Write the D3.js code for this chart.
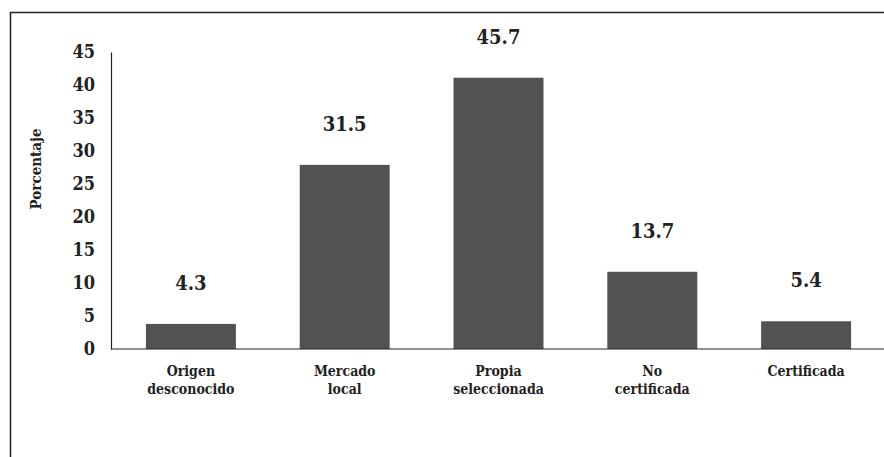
<!DOCTYPE html>
<html>
<head>
<meta charset="utf-8">
<script src="https://cdn.jsdelivr.net/npm/d3@7"></script>
<style>
  body { margin: 0; background: #fff; }
  svg text { font-weight: bold; fill: #222; }
</style>
</head>
<body>
<div id="chart"></div>
<script>
const categories = [["Origen", "desconocido"], ["Mercado", "local"], ["Propia", "seleccionada"], ["No", "certificada"], ["Certificada"]];
const barValues = [3.8, 27.9, 41.1, 11.7, 4.2];
const valueLabels = ["4.3", "31.5", "45.7", "13.7", "5.4"];
const yTicks = [0, 5, 10, 15, 20, 25, 30, 35, 40, 45];

const width = 884, height = 457;
const serif = "'DejaVu Serif Condensed', 'DejaVu Serif', serif";

const svg = d3.select("#chart")
  .append("svg")
  .attr("width", width)
  .attr("height", height)
  .attr("font-family", serif);

// frame (only top and left edges visible)
svg.append("path")
  .attr("d", "M10.5," + height + "V12.5H" + width)
  .attr("fill", "none")
  .attr("stroke", "#222")
  .attr("stroke-width", 1.5);

const keys = categories.map(function(d) { return d.join(" "); });

const x = d3.scaleBand()
  .domain(keys)
  .range([114, 883])
  .paddingInner(0.415)
  .paddingOuter(0.2075);

const y = d3.scaleLinear()
  .domain([0, 45])
  .range([349, 52]);

// bars
svg.selectAll("rect.bar")
  .data(barValues)
  .enter()
  .append("rect")
  .attr("class", "bar")
  .attr("x", function(d, i) { return x(keys[i]); })
  .attr("y", function(d) { return y(d); })
  .attr("width", x.bandwidth())
  .attr("height", function(d) { return y(0) - y(d); })
  .attr("fill", "#525254");

// y axis
const yAxis = svg.append("g")
  .attr("transform", "translate(111,0)")
  .call(d3.axisLeft(y).tickValues(yTicks).tickSize(0).tickPadding(16))
  .attr("font-family", serif)
  .attr("font-size", 18);
yAxis.select(".domain").attr("stroke", "#222").attr("stroke-width", 1.2);
yAxis.selectAll("text").attr("fill", "#222");

// x axis line
svg.append("line")
  .attr("x1", 111).attr("x2", width)
  .attr("y1", y(0)).attr("y2", y(0))
  .attr("stroke", "#222")
  .attr("stroke-width", 1.2);

// category labels
const cat = svg.selectAll(".cat")
  .data(categories)
  .enter()
  .append("text")
  .attr("class", "cat")
  .attr("text-anchor", "middle")
  .style("font-size", "14px");
cat.selectAll("tspan")
  .data(function(d, i) { return d.map(function(t) { return {t: t, i: i}; }); })
  .enter()
  .append("tspan")
  .attr("x", function(d) { return x(keys[d.i]) + x.bandwidth() / 2; })
  .attr("y", function(d, j) { return 376 + j * 18; })
  .text(function(d) { return d.t; });

// value labels
svg.selectAll(".value")
  .data(barValues)
  .enter()
  .append("text")
  .attr("class", "value")
  .attr("text-anchor", "middle")
  .attr("x", function(d, i) { return x(keys[i]) + x.bandwidth() / 2; })
  .attr("y", function(d) { return y(d) - 34; })
  .style("font-size", "20px")
  .text(function(d, i) { return valueLabels[i]; });

// y axis title
svg.append("text")
  .attr("transform", "translate(41,169) rotate(-90)")
  .attr("text-anchor", "middle")
  .style("font-size", "15px")
  .text("Porcentaje");
</script>
</body>
</html>
